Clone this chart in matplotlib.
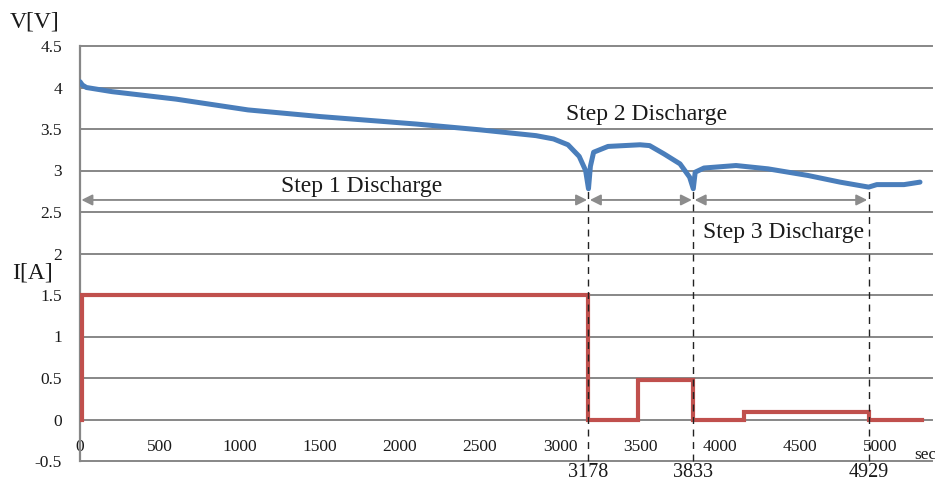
import matplotlib
matplotlib.use("Agg")
from matplotlib import pyplot as plt

plt.rcParams['font.family'] = ['Liberation Serif', 'DejaVu Serif']

# voltage curve (sec, V)
v_time = [0, 15, 40, 200, 600, 1050, 1500, 2100, 2500, 2850, 2960, 3050, 3120, 3160, 3178,
          3190, 3210, 3300, 3500, 3560, 3650, 3750, 3810, 3833, 3845, 3900, 4100,
          4300, 4550, 4750, 4929, 4980, 5150, 5250]
v_volt = [4.07, 4.03, 4.00, 3.95, 3.86, 3.73, 3.65, 3.56, 3.49, 3.42, 3.38, 3.31, 3.17, 3.00, 2.78,
          3.05, 3.22, 3.29, 3.31, 3.30, 3.20, 3.08, 2.92, 2.78, 2.98, 3.03, 3.06,
          3.02, 2.94, 2.86, 2.80, 2.83, 2.83, 2.86]

# current steps (sec, A)
i_time = [0, 10, 3178, 3490, 3833, 4150, 4929, 5260]
i_amp = [0, 1.5, 0, 0.48, 0, 0.09, 0, 0]

# step boundaries
steps = [0, 3178, 3833, 4929]
step_labels = ["Step 1 Discharge", "Step 2 Discharge", "Step 3 Discharge"]
step_text_pos = [(1762, 2.81), (3540, 3.68), (4400, 2.25)]

x_ticks = [0, 500, 1000, 1500, 2000, 2500, 3000, 3500, 4000, 4500, 5000]
y_ticks = [-0.5, 0, 0.5, 1, 1.5, 2, 2.5, 3, 3.5, 4, 4.5]

grey = '#878787'

fig = plt.figure(figsize=(9.35, 4.82), dpi=100)
ax = fig.add_axes([80 / 935, 1 - 461 / 482, (932 - 80) / 935, (461 - 46) / 482])

ax.set_xlim(0, 5325)
ax.set_ylim(-0.5, 4.5)
ax.set_yticks(y_ticks)
ax.set_yticklabels([f"{y:g}" for y in y_ticks])
ax.set_xticks(x_ticks)
ax.set_xticklabels([str(x) for x in x_ticks])

for y in y_ticks:
    ax.axhline(y, color=grey, lw=1.4, zorder=1, clip_on=False)

for s in ['top', 'right']:
    ax.spines[s].set_visible(False)
ax.spines['left'].set_color(grey)
ax.spines['left'].set_linewidth(1.6)
ax.spines['bottom'].set_position(('data', 0))
ax.spines['bottom'].set_visible(False)
ax.tick_params(axis='both', length=0, labelsize=12.5, labelcolor='#1a1a1a')
ax.tick_params(axis='y', pad=13)
ax.tick_params(axis='x', pad=14)

ax.plot(i_time, i_amp, drawstyle='steps-post', color='#C0504D', lw=3.0, zorder=3,
        solid_joinstyle='miter')
ax.plot(v_time, v_volt, color='#4A7EBB', lw=3.6, zorder=4, solid_capstyle='round')

# dashed markers at step ends
for t in steps[1:]:
    ax.plot([t, t], [-0.5, 2.78], color='#222222', lw=1.0, dashes=(5, 4), zorder=5,
            clip_on=False)
    ax.text(t, -0.64, str(t), ha='center', va='center', fontsize=14.5, color='#1a1a1a')

# double arrows
for a, b in zip(steps[:-1], steps[1:]):
    ax.annotate('', xy=(b, 2.645), xytext=(a, 2.645),
                arrowprops=dict(arrowstyle='<|-|>', color='#8c8c8c', lw=1.4,
                                mutation_scale=16, shrinkA=1, shrinkB=1), zorder=2)

for lab, (tx, ty) in zip(step_labels, step_text_pos):
    ax.text(tx, ty, lab, ha='center', va='center', fontsize=17, color='#1a1a1a')

fig.text(10 / 935, 1 - 22 / 482, "V[V]", ha='left', va='center', fontsize=17, color='#1a1a1a')
fig.text(12 / 935, 1 - 273 / 482, "I[A]", ha='left', va='center', fontsize=17, color='#1a1a1a')
fig.text(914 / 935, 1 - 455 / 482, "sec", ha='left', va='center', fontsize=12.5, color='#1a1a1a')

fig.savefig("out.png", dpi=100)
